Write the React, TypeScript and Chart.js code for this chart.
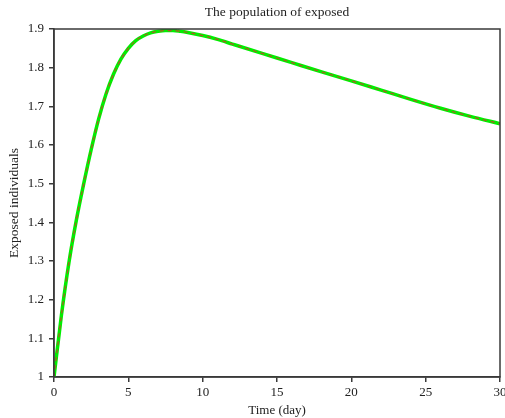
import React, { useEffect, useRef } from 'react';
import { Chart, registerables } from 'chart.js';
Chart.register(...registerables);

const timeDays = [0, 0.5, 1, 1.5, 2, 2.5, 3, 3.5, 4, 4.5, 5, 5.5, 6, 6.5, 7, 7.5, 8, 8.5, 9, 10, 11, 12, 14, 16, 18, 20, 22, 24, 26, 28, 30];
const exposedRed = [1.0, 1.16, 1.295, 1.405, 1.5, 1.588, 1.667, 1.732, 1.783, 1.822, 1.85, 1.87, 1.882, 1.89, 1.894, 1.896, 1.896, 1.894, 1.891, 1.883, 1.873, 1.861, 1.837, 1.813, 1.789, 1.766, 1.742, 1.718, 1.695, 1.674, 1.655];
const exposedGreen = [1.0, 1.16, 1.295, 1.405, 1.5, 1.588, 1.667, 1.732, 1.783, 1.822, 1.85, 1.87, 1.882, 1.89, 1.894, 1.896, 1.896, 1.894, 1.891, 1.883, 1.873, 1.861, 1.837, 1.813, 1.789, 1.766, 1.742, 1.718, 1.695, 1.674, 1.655];
const xTicks = [0, 5, 10, 15, 20, 25, 30];
const yTicks = [1, 1.1, 1.2, 1.3, 1.4, 1.5, 1.6, 1.7, 1.8, 1.9];
const chartTitle = 'The population of exposed';

const FONT = "'Liberation Serif', 'DejaVu Serif', serif";
const AXIS = '#3a3a3a';

const framePlugin = {
  id: 'frame',
  afterDatasetsDraw(chart: any) {
    const { ctx, chartArea } = chart;
    ctx.save();
    ctx.strokeStyle = AXIS;
    ctx.lineWidth = 1.5;
    ctx.strokeRect(chartArea.left, chartArea.top, chartArea.right - chartArea.left, chartArea.bottom - chartArea.top);
    ctx.fillStyle = '#222';
    ctx.font = `13.5px ${FONT}`;
    ctx.textAlign = 'center';
    ctx.textBaseline = 'middle';
    ctx.fillText(chartTitle, (chartArea.left + chartArea.right) / 2, 12);
    ctx.restore();
  },
};

export default function App() {
  const ref = useRef<HTMLCanvasElement>(null);
  useEffect(() => {
    if (!ref.current) return;
    const mk = (ys: number[]) => timeDays.map((t, i) => ({ x: t, y: ys[i] }));
    const chart = new Chart(ref.current, {
      type: 'line',
      data: {
        datasets: [
          {
            data: mk(exposedRed),
            borderColor: 'rgba(205,60,40,0.85)',
            borderWidth: 1.2,
            borderDash: [4, 4],
            pointRadius: 0,
            cubicInterpolationMode: 'monotone',
            fill: false,
          },
          {
            data: mk(exposedGreen),
            borderColor: '#00ee00',
            borderWidth: 3.5,
            pointRadius: 0,
            cubicInterpolationMode: 'monotone',
            fill: false,
          },
        ],
      },
      options: {
        animation: false,
        responsive: false,
        maintainAspectRatio: false,
        layout: { padding: { left: 0, right: 5, top: 29, bottom: 0 } },
        plugins: {
          legend: { display: false },
          tooltip: { enabled: false },
          title: { display: false },
        },
        scales: {
          x: {
            type: 'linear',
            min: 0,
            max: 30,
            afterBuildTicks: (s: any) => { s.ticks = xTicks.map((v) => ({ value: v })); },
            afterFit: (s: any) => { s.height = 41; s.paddingLeft = 0; s.paddingRight = 0; },
            grid: { drawOnChartArea: false, drawTicks: true, tickLength: 5, color: AXIS, lineWidth: 1.5 },
            border: { display: true, color: AXIS, width: 1.5 },
            ticks: { color: '#222', font: { family: FONT, size: 13 }, padding: 3, maxRotation: 0 },
            title: { display: true, text: 'Time (day)', color: '#222', font: { family: FONT, size: 13 }, padding: { top: 2, bottom: 0 } },
          },
          y: {
            type: 'linear',
            min: 1,
            max: 1.9,
            afterBuildTicks: (s: any) => { s.ticks = yTicks.map((v) => ({ value: v })); },
            afterFit: (s: any) => { s.width = 54; s.paddingTop = 0; s.paddingBottom = 0; },
            grid: { drawOnChartArea: false, drawTicks: true, tickLength: 5, color: AXIS, lineWidth: 1.5 },
            border: { display: true, color: AXIS, width: 1.5 },
            ticks: { color: '#222', font: { family: FONT, size: 13 }, padding: 5, callback: (v: any) => String(Math.round(v * 10) / 10) },
            title: { display: true, text: 'Exposed individuals', color: '#222', font: { family: FONT, size: 13.5 }, padding: { top: 6, bottom: 0 } },
          },
        },
      },
      plugins: [framePlugin],
    } as any);
    return () => chart.destroy();
  }, []);
  return (
    <div style={{ position: 'fixed', left: 0, top: 0, width: 505, height: 418, background: '#fff' }}>
      <canvas ref={ref} width={505} height={418} style={{ width: 505, height: 418 }} />
    </div>
  );
}
